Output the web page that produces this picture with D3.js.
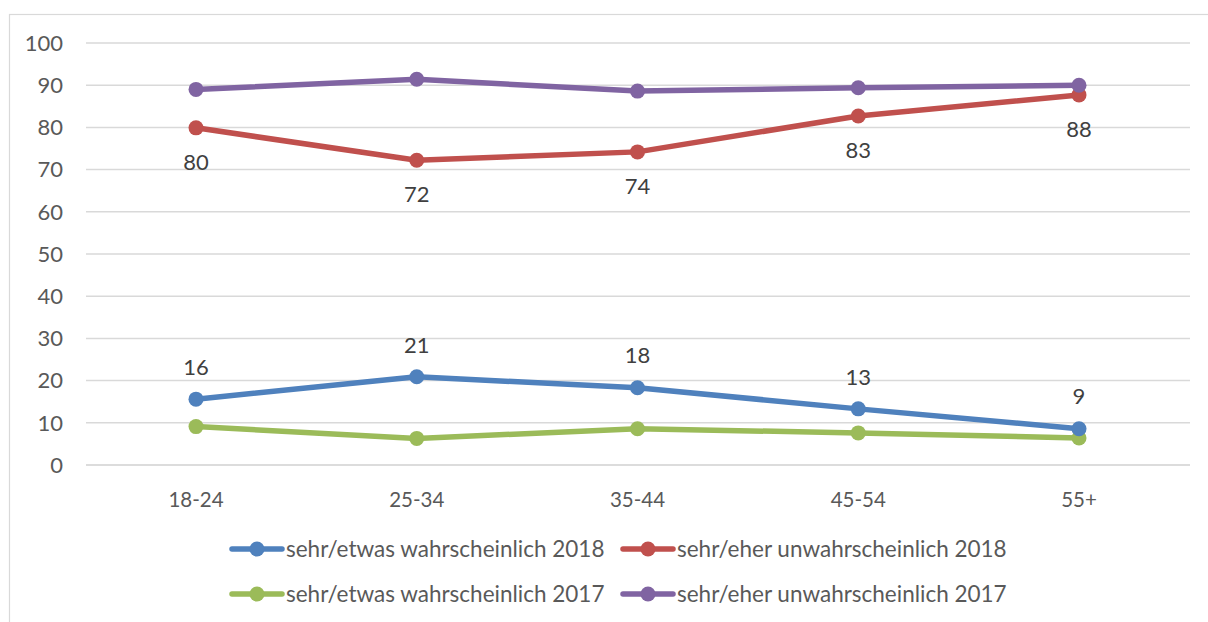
<!DOCTYPE html>
<html><head><meta charset="utf-8">
<script src="https://cdn.jsdelivr.net/npm/d3@7"></script>
<style>body{margin:0;background:#fff;} svg{display:block;font-family:Lato,"Open Sans",sans-serif;}</style>
</head><body>
<svg id="c" width="1208" height="622"></svg>
<script>
const categories = ["18-24","25-34","35-44","45-54","55+"];
const blue2018 = [15.6, 20.9, 18.3, 13.3, 8.6];
const red2018 = [79.9, 72.2, 74.2, 82.7, 87.7];
const green2017 = [9.1, 6.3, 8.6, 7.6, 6.4];
const purple2017 = [89.0, 91.4, 88.6, 89.4, 90.0];
const yTicks = [0,10,20,30,40,50,60,70,80,90,100];
const seriesNames = ["sehr/etwas wahrscheinlich 2018","sehr/eher unwahrscheinlich 2018","sehr/etwas wahrscheinlich 2017","sehr/eher unwahrscheinlich 2017"];

const series = [
  {name: seriesNames[0], values: blue2018, color: "#4f81bd", label: "above"},
  {name: seriesNames[1], values: red2018, color: "#c0504d", label: "below"},
  {name: seriesNames[2], values: green2017, color: "#9bbb59", label: null},
  {name: seriesNames[3], values: purple2017, color: "#8064a2", label: null}
];
const drawOrder = [2,0,1,3];

const svg = d3.select("#c");
svg.append("rect").attr("x",9.5).attr("y",14.5).attr("width",1220).attr("height",640)
  .attr("fill","none").attr("stroke","#d9d9d9").attr("stroke-width",1.2);

const x = d3.scalePoint().domain(categories).range([196, 1079]);
const y = d3.scaleLinear().domain([0,100]).range([465, 43]);
const left = 86, right = 1190;

const g = svg.append("g");
g.selectAll("line.grid").data(yTicks).enter().append("line")
  .attr("x1",left).attr("x2",right)
  .attr("y1",d=>y(d)).attr("y2",d=>y(d))
  .attr("stroke", d=> d===0 ? "#d0d0d0" : "#d9d9d9").attr("stroke-width",1.5);

g.selectAll("text.yt").data(yTicks).enter().append("text")
  .attr("x",63).attr("y",d=>y(d)).attr("dy","0.35em").attr("text-anchor","end")
  .attr("fill","#595959").attr("font-size","22px").text(d=>d);

g.selectAll("text.xt").data(categories).enter().append("text")
  .attr("x",d=>x(d)).attr("y",500).attr("dy","0.35em").attr("text-anchor","middle")
  .attr("fill","#595959").attr("font-size","20.5px").text(d=>d);

const line = d3.line().x((d,i)=>x(categories[i])).y(d=>y(d));
drawOrder.forEach(si=>{
  const s = series[si];
  g.append("path").datum(s.values).attr("d",line).attr("fill","none")
    .attr("stroke",s.color).attr("stroke-width",5.5).attr("stroke-linejoin","round");
  g.selectAll(null).data(s.values).enter().append("circle")
    .attr("cx",(d,i)=>x(categories[i])).attr("cy",d=>y(d)).attr("r",7.5).attr("fill",s.color);
});
series.forEach(s=>{
  if(!s.label) return;
  g.selectAll(null).data(s.values).enter().append("text")
    .attr("x",(d,i)=>x(categories[i]))
    .attr("y",d=> s.label==="above" ? y(d)-32 : y(d)+34)
    .attr("dy","0.35em").attr("text-anchor","middle")
    .attr("fill","#404040").attr("font-size","22px").text(d=>Math.round(d));
});

const legPos = [[229,549],[620,549],[229,594],[620,594]];
series.forEach((s,i)=>{
  const [lx,ly] = legPos[i];
  const lg = svg.append("g");
  lg.append("line").attr("x1",lx+3).attr("x2",lx+53).attr("y1",ly).attr("y2",ly)
    .attr("stroke",s.color).attr("stroke-width",5.5).attr("stroke-linecap","round");
  lg.append("circle").attr("cx",lx+28).attr("cy",ly).attr("r",7.5).attr("fill",s.color);
  lg.append("text").attr("x",lx+57).attr("y",ly).attr("dy","0.35em")
    .attr("fill","#595959").attr("font-size","22.5px").text(s.name);
});
</script>
</body></html>
